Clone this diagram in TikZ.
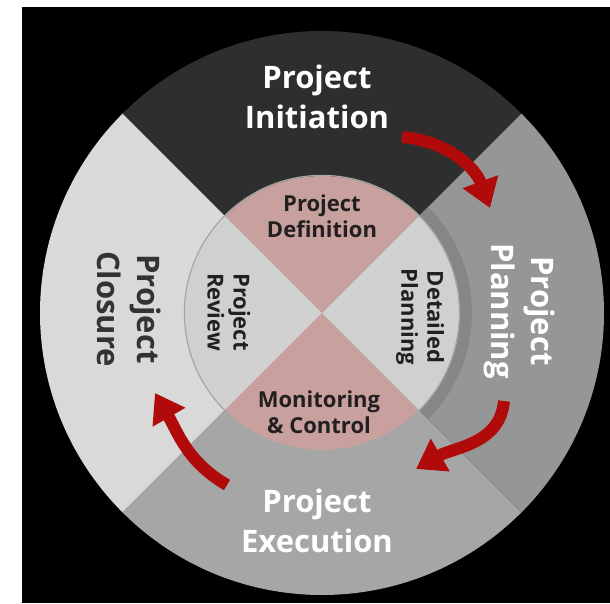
\documentclass[tikz,border=0pt]{standalone}
\usepackage{fontspec}
\setmainfont{Open Sans}
\usetikzlibrary{arrows.meta}
\definecolor{initcol}{HTML}{2E2E2E}
\definecolor{plancol}{HTML}{969696}
\definecolor{execcol}{HTML}{A6A6A6}
\definecolor{closecol}{HTML}{D9D9D9}
\definecolor{pinkcol}{HTML}{C8A19E}
\definecolor{innercol}{HTML}{D0D0D0}
\definecolor{bandcol}{HTML}{868686}
\definecolor{arrowred}{HTML}{B00A0A}
\definecolor{darktext}{HTML}{231F20}
\definecolor{closetext}{HTML}{333333}
\tikzset{
  phase/.style={align=center,font=\fontsize{31}{40}\selectfont\bfseries,text=white},
  subphase/.style={align=center,font=\fontsize{22}{26}\selectfont\bfseries,text=darktext},
  cyclearrow/.style={draw=arrowred,line width=12pt,-{Triangle[width=36pt,length=28pt]}}
}
\begin{document}
\begin{tikzpicture}[x=1pt,y=1pt]
\useasboundingbox (-322,313) rectangle (288,-290);
\path[fill=white] (-322,313) rectangle (288,-290);
\path[fill=black] (-300,306) rectangle (288,-290);

% outer ring
\path[fill=initcol] (0,0) -- (45:282) arc[start angle=45,end angle=135,radius=282] -- cycle;
\path[fill=closecol] (0,0) -- (135:282) arc[start angle=135,end angle=225,radius=282] -- cycle;
\path[fill=execcol] (0,0) -- (225:282) arc[start angle=225,end angle=315,radius=282] -- cycle;
\path[fill=plancol] (0,0) -- (-45:282) arc[start angle=-45,end angle=45,radius=282] -- cycle;
% shadow next to the inner circle
\path[fill=bandcol] (0,0) -- (-45:150) arc[start angle=-45,end angle=45,radius=150] -- cycle;

% inner circle
\path[fill=pinkcol] (0,0) -- (45:137) arc[start angle=45,end angle=135,radius=137] -- cycle;
\path[fill=innercol] (0,0) -- (135:137) arc[start angle=135,end angle=225,radius=137] -- cycle;
\path[fill=pinkcol] (0,0) -- (225:137) arc[start angle=225,end angle=315,radius=137] -- cycle;
\path[fill=innercol] (0,0) -- (-45:137) arc[start angle=-45,end angle=45,radius=137] -- cycle;
\path[draw=gray!70,line width=1.2pt] (0,0) circle (137.6);

\node[phase] (init) at (-5,216) {Project\\Initiation};
\node[phase,rotate=-90] (plan) at (198,2) {Project\\Planning};
\node[phase] (exec) at (-5,-208) {Project\\Execution};
\node[phase,rotate=-90,text=closetext] (close) at (-193,4) {Project\\Closure};

\node[subphase] (def) at (0,97) {Project\\Definition};
\node[subphase,rotate=-90] (detail) at (98,-4) {Detailed\\Planning};
\node[subphase] (monitor) at (-3,-99) {Monitoring\\\& Control};
\node[subphase,rotate=-90] (review) at (-93,1) {Project\\Review};

% arrows between phases
\coordinate (a1s) at (80,176);
\coordinate (a1e) at (168,105);
\coordinate (a2s) at (182,-88);
\coordinate (a2e) at (94,-156);
\coordinate (a3s) at (-95,-172);
\coordinate (a3e) at (-167,-80);
\path[cyclearrow] (a1s) to[out=-5,in=110] (a1e);
\path[cyclearrow] (a2s) to[out=-95,in=30] (a2e);
\path[cyclearrow] (a3s) to[out=150,in=-60] (a3e);
\end{tikzpicture}
\end{document}
